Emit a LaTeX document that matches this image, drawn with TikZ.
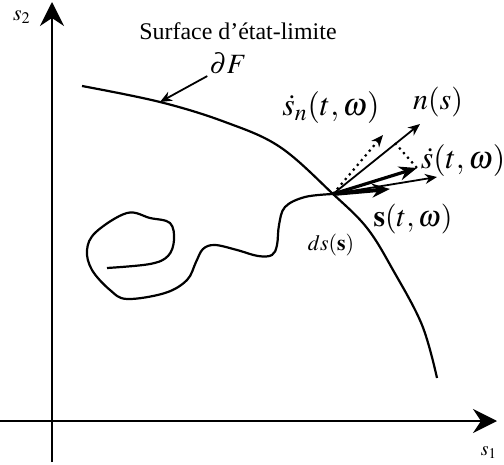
\documentclass[tikz,border=0pt]{standalone}
\usepackage{mathptmx}
\usepackage{fontspec}
\setmainfont{Liberation Serif}
\usetikzlibrary{arrows.meta}

\begin{document}
\begin{tikzpicture}[x=0.5bp,y=-0.5bp,>=Stealth,
  axis/.style={line width=1.4bp,-{Stealth[length=12bp,width=12bp,inset=4bp]}},
  curve/.style={line width=1.1bp},
  vec/.style={line width=0.9bp,-{Stealth[length=6bp,width=5bp]}},
  lbl/.style={inner sep=1bp}]
  \useasboundingbox (0,0) rectangle (504,465);
  % axes
  \coordinate (ybot) at (52,462);
  \coordinate (ytop) at (52,2);
  \coordinate (xleft) at (0,421);
  \coordinate (xright) at (497,421);
  \draw[axis] (ybot) -- (ytop);
  \draw[axis] (xleft) -- (xright);
  \node[lbl,font=\fontsize{11}{13}\selectfont] (s2) at (22,17) {$s_2$};
  \node[lbl,font=\fontsize{10}{12}\selectfont] (s1) at (489,453) {$s_1$};
  % limit state surface
  \draw[curve] plot[smooth,tension=0.6] coordinates {(82,86) (160,102) (225,122) (280,147)
    (333,194) (367,228) (393,270) (422,325) (437,378)};
  \node[lbl,font=\fontsize{12}{14}\selectfont] (surf) at (238,31) {Surface d'état-limite};
  \node[lbl,font=\fontsize{14}{16}\selectfont] (dF) at (228,63) {$\partial F$};
  \coordinate (dFtip) at (160,102);
  \draw[vec] (dF.south west) -- (dFtip);
  % trajectory
  \coordinate (P) at (333,194);
  \draw[curve] plot[smooth,tension=0.6] coordinates {(333,194) (305,197) (285,207) (279,225)
    (277,245) (272,255) (258,256) (237,250) (215,245) (203,249) (196,262) (187,280)
    (165,293) (127,299) (110,290) (92,270) (87,250) (96,232) (127,213) (150,218)
    (170,223) (174,240) (168,256) (150,264) (107,268)};
  % vectors
  \coordinate (ntip) at (420,124);
  \coordinate (sdtip) at (417,168);
  \coordinate (stip) at (437,177);
  \coordinate (sshort) at (390,189);
  \coordinate (sntip) at (383,135);
  \coordinate (nfoot) at (395,143);
  \draw[vec] (P) -- (ntip);
  \draw[vec] (P) -- (stip);
  \draw[line width=1.6bp,-{Stealth[length=9bp,width=7bp]}] (P) -- (sdtip);
  \draw[line width=2bp,-{Stealth[length=9bp,width=7bp]}] (P) -- (sshort);
  \draw[dotted,line width=1.1bp,-{Stealth[length=6bp,width=5bp,open]}] (P) -- (sntip);
  \draw[dotted,line width=1.1bp] (nfoot) -- (sdtip);
  % labels
  \node[lbl,font=\fontsize{15}{17}\selectfont] (nlab) at (438,102) {$n(s)$};
  \node[lbl,font=\fontsize{16}{18}\selectfont] (sdlab) at (463,161) {$\dot{s}(t,\omega)$};
  \node[lbl,font=\fontsize{15}{17}\selectfont] (slab) at (413,219) {$\mathbf{s}(t,\omega)$};
  \node[lbl,font=\fontsize{16}{18}\selectfont] (snlab) at (331,108) {$\dot{s}_n(t,\omega)$};
  \node[lbl,font=\fontsize{11}{13}\selectfont] (dslab) at (331,245) {$ds(\mathbf{s})$};
\end{tikzpicture}
\end{document}
